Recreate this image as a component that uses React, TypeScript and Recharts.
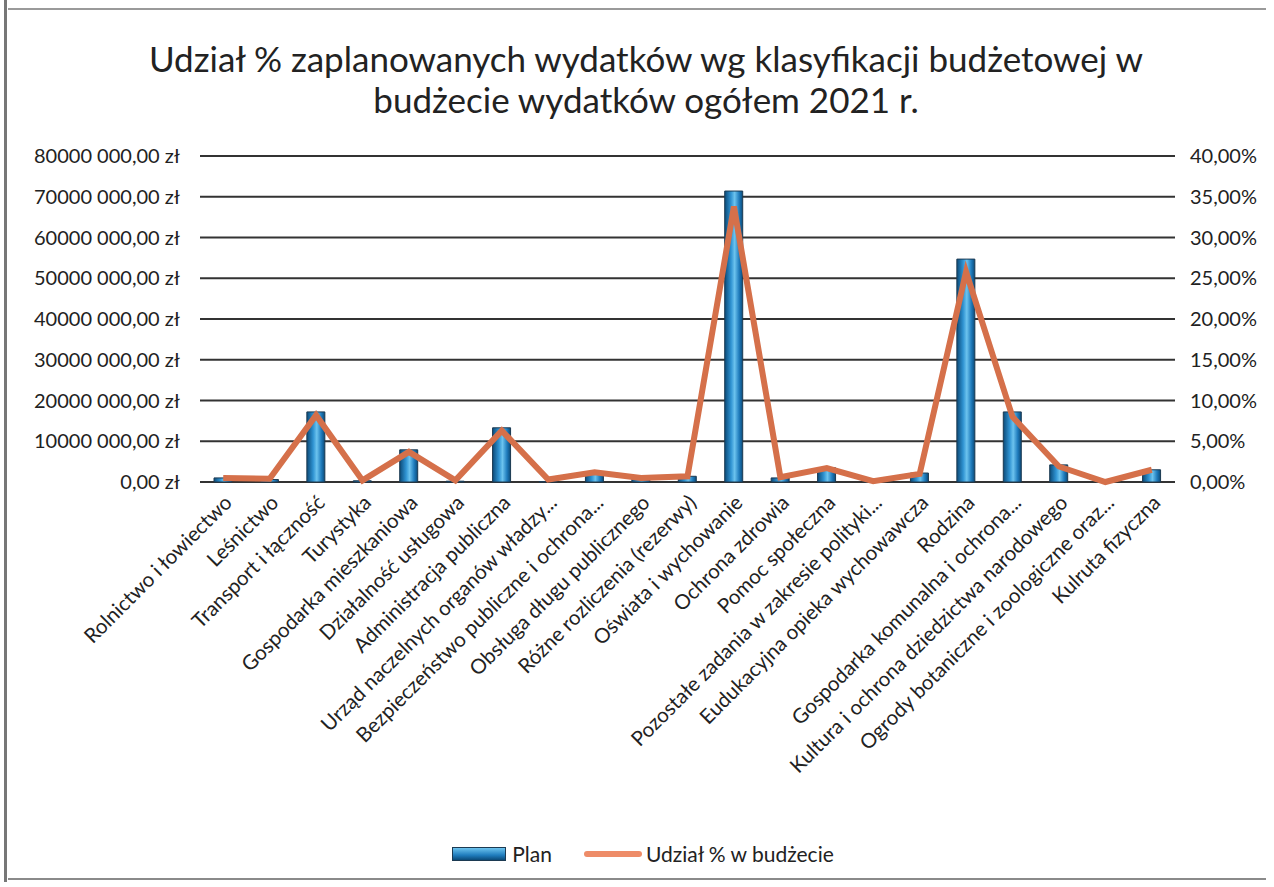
import { ComposedChart, Bar, Line, XAxis, YAxis, CartesianGrid } from "recharts"

const CATEGORIES = [
  "Rolnictwo i łowiectwo",
  "Leśnictwo",
  "Transport i łączność",
  "Turystyka",
  "Gospodarka mieszkaniowa",
  "Działalność usługowa",
  "Administracja publiczna",
  "Urząd naczelnych organów władzy...",
  "Bezpieczeństwo publiczne i ochrona...",
  "Obsługa długu publicznego",
  "Różne rozliczenia (rezerwy)",
  "Oświata i wychowanie",
  "Ochrona zdrowia",
  "Pomoc społeczna",
  "Pozostałe zadania w zakresie polityki...",
  "Eudukacyjna opieka wychowawcza",
  "Rodzina",
  "Gospodarka komunalna i ochrona...",
  "Kultura i ochrona dziedzictwa narodowego",
  "Ogrody botaniczne i zoologiczne oraz...",
  "Kulruta fizyczna",
]

// plan w zł
const PLAN = [
  1000000, 600000, 17200000, 300000, 7900000, 200000, 13300000, 100000,
  2500000, 1000000, 1400000, 71400000, 1000000, 3500000, 200000, 2200000,
  54700000, 17200000, 4200000, 50000, 3000000,
]

// udział w budżecie (ułamek)
const SHARE = [
  0.005, 0.004, 0.082, 0.002, 0.037, 0.002, 0.063, 0.003, 0.012, 0.005,
  0.007, 0.338, 0.006, 0.017, 0.001, 0.01, 0.258, 0.08, 0.019, 0.0, 0.015,
]

const LEFT_TICKS = [0, 10000000, 20000000, 30000000, 40000000, 50000000, 60000000, 70000000, 80000000]
const RIGHT_TICKS = [0, 0.05, 0.1, 0.15, 0.2, 0.25, 0.3, 0.35, 0.4]

const data = CATEGORIES.map((name, i) => ({ name, plan: PLAN[i], share: SHARE[i] }))

const FONT = "Lato, 'Open Sans', sans-serif"

// format jak w arkuszu: "80000 000,00 zł"
const fmtZl = (v: number) => (v === 0 ? "0,00 zł" : `${Math.round(v / 1000)} 000,00 zł`)
const fmtPct = (v: number) => `${(v * 100).toFixed(2).replace(".", ",")}%`

const XTick = ({ x, y, payload }: any) => (
  <text
    x={x + 10}
    y={y + 14}
    transform={`rotate(-45, ${x + 10}, ${y + 14})`}
    textAnchor="end"
    fontSize={20.5}
    fontFamily={FONT}
    fill="#222"
  >
    {payload.value}
  </text>
)

export default function App() {
  return (
    <div style={{ position: "relative", width: 1266, height: 872, marginLeft: -3, fontFamily: FONT }}>
      <div style={{ position: "fixed", left: 4, top: 0, width: 3, height: 882, background: "#777", zIndex: 5 }} />
      <div style={{ position: "absolute", left: 0, top: 0, width: 1269, height: 2, background: "#9a9a9a" }} />
      <div style={{ position: "absolute", left: 0, top: 870, width: 1269, height: 2, background: "#8a8a8a" }} />
      <div
        style={{
          position: "absolute",
          left: 0,
          top: 30,
          width: 1282,
          textAlign: "center",
          fontSize: 35,
          lineHeight: "41px",
          color: "#222",
        }}
      >
        Udział % zaplanowanych wydatków wg klasyfikacji budżetowej w
        <br />
        budżecie wydatków ogółem 2021 r.
      </div>
      <div style={{ position: "absolute", left: 3, top: 0 }}>
        <ComposedChart
          width={1258}
          height={800}
          data={data}
          margin={{ top: 148, right: 0, bottom: 0, left: 0 }}
        >
          <defs>
            <linearGradient id="barGrad" x1="0" y1="0" x2="1" y2="0">
              <stop offset="0%" stopColor="#0b4a78" />
              <stop offset="35%" stopColor="#2f93d2" />
              <stop offset="55%" stopColor="#6cc3ee" />
              <stop offset="80%" stopColor="#1f7cbd" />
              <stop offset="100%" stopColor="#0b4a78" />
            </linearGradient>
          </defs>
          <CartesianGrid yAxisId="left" vertical={false} stroke="#333" strokeWidth={2} />
          <XAxis
            dataKey="name"
            interval={0}
            height={326}
            tickLine={false}
            axisLine={false}
            tick={<XTick />}
          />
          <YAxis
            yAxisId="left"
            width={192}
            domain={[0, 80000000]}
            ticks={LEFT_TICKS}
            tickFormatter={fmtZl}
            tickLine={false}
            axisLine={false}
            tickMargin={14}
            tick={{ fontSize: 20, fill: "#222", fontFamily: FONT }}
          />
          <YAxis
            yAxisId="right"
            orientation="right"
            width={91}
            domain={[0, 0.4]}
            ticks={RIGHT_TICKS}
            tickFormatter={fmtPct}
            tickLine={false}
            axisLine={false}
            tickMargin={9}
            tick={{ fontSize: 20, fill: "#222", fontFamily: FONT, textAnchor: "start" }}
          />
          <Bar
            yAxisId="left"
            dataKey="plan"
            barSize={18}
            fill="url(#barGrad)"
            stroke="#1c3a52"
            strokeWidth={1}
            isAnimationActive={false}
          />
          <Line
            yAxisId="right"
            dataKey="share"
            type="linear"
            stroke="#d5704a"
            strokeWidth={6}
            dot={false}
            activeDot={false}
            isAnimationActive={false}
          />
        </ComposedChart>
      </div>
      <div
        style={{
          position: "absolute",
          top: 833,
          left: 0,
          width: 1266,
          display: "flex",
          justifyContent: "center",
          alignItems: "center",
          fontSize: 21,
          color: "#222",
          paddingLeft: 10,
          boxSizing: "border-box",
        }}
      >
        <span
          style={{
            display: "inline-block",
            width: 52,
            height: 12,
            background: "linear-gradient(#6cc3ee, #1f7cbd 60%, #0b4a78)",
            border: "1px solid #1c3a52",
            marginRight: 6,
          }}
        />
        <span style={{ marginRight: 32 }}>Plan</span>
        <span
          style={{
            display: "inline-block",
            width: 58,
            height: 6,
            borderRadius: 3,
            background: "#ee8c68",
            marginRight: 4,
          }}
        />
        <span>Udział % w budżecie</span>
      </div>
    </div>
  )
}
